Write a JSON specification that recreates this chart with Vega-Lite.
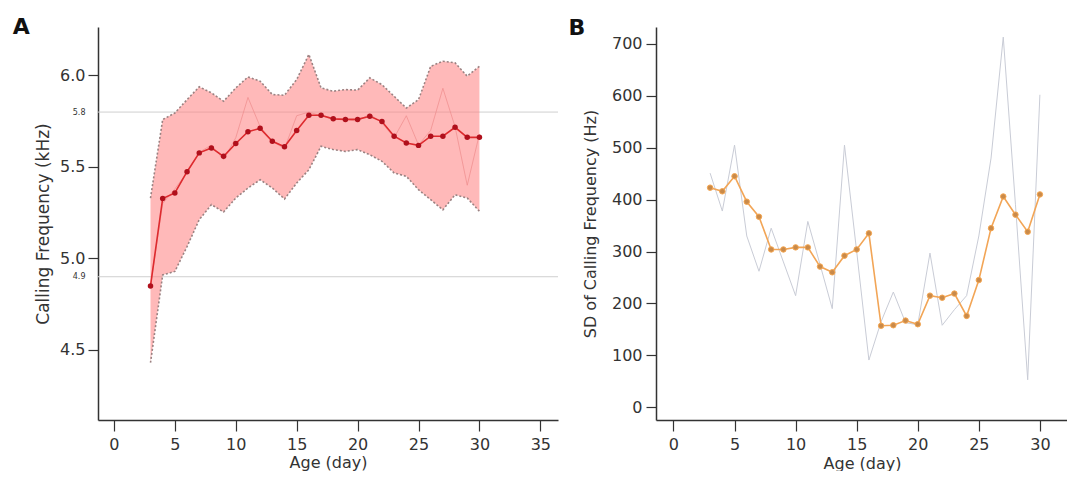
{
  "$schema": "https://vega.github.io/schema/vega-lite/v6.json",
  "padding": {"left": 12, "top": 16, "right": 0, "bottom": 0},
  "background": "white",
  "bounds": "flush",
  "spacing": 98,
  "config": {
    "view": {"stroke": null},
    "font": "DejaVu Sans",
    "axis": {
      "labelFont": "DejaVu Sans", "titleFont": "DejaVu Sans",
      "labelColor": "#333", "titleColor": "#333", "domainColor": "#333", "tickColor": "#333",
      "domainWidth": 1.5, "tickWidth": 1.2, "grid": false,
      "titleFontWeight": "normal", "labelFontSize": 16, "titleFontSize": 16
    }
  },
  "datasets": {
    "freq": [
      {"day": 3, "mean": 4.85, "upper": 5.33, "lower": 4.43, "raw": 4.85},
      {"day": 4, "mean": 5.328, "upper": 5.759, "lower": 4.91, "raw": 5.30},
      {"day": 5, "mean": 5.358, "upper": 5.795, "lower": 4.929, "raw": 5.38},
      {"day": 6, "mean": 5.474, "upper": 5.868, "lower": 5.065, "raw": 5.47},
      {"day": 7, "mean": 5.577, "upper": 5.938, "lower": 5.212, "raw": 5.58},
      {"day": 8, "mean": 5.604, "upper": 5.905, "lower": 5.294, "raw": 5.62},
      {"day": 9, "mean": 5.558, "upper": 5.859, "lower": 5.254, "raw": 5.54},
      {"day": 10, "mean": 5.628, "upper": 5.932, "lower": 5.33, "raw": 5.66},
      {"day": 11, "mean": 5.693, "upper": 5.992, "lower": 5.385, "raw": 5.88},
      {"day": 12, "mean": 5.711, "upper": 5.969, "lower": 5.43, "raw": 5.72},
      {"day": 13, "mean": 5.64, "upper": 5.896, "lower": 5.385, "raw": 5.64},
      {"day": 14, "mean": 5.611, "upper": 5.892, "lower": 5.325, "raw": 5.60},
      {"day": 15, "mean": 5.699, "upper": 5.978, "lower": 5.412, "raw": 5.78},
      {"day": 16, "mean": 5.783, "upper": 6.115, "lower": 5.485, "raw": 5.80},
      {"day": 17, "mean": 5.783, "upper": 5.932, "lower": 5.613, "raw": 5.78},
      {"day": 18, "mean": 5.763, "upper": 5.914, "lower": 5.595, "raw": 5.76},
      {"day": 19, "mean": 5.76, "upper": 5.923, "lower": 5.585, "raw": 5.76},
      {"day": 20, "mean": 5.76, "upper": 5.92, "lower": 5.595, "raw": 5.75},
      {"day": 21, "mean": 5.777, "upper": 5.987, "lower": 5.567, "raw": 5.79},
      {"day": 22, "mean": 5.748, "upper": 5.95, "lower": 5.531, "raw": 5.74},
      {"day": 23, "mean": 5.668, "upper": 5.886, "lower": 5.467, "raw": 5.66},
      {"day": 24, "mean": 5.631, "upper": 5.822, "lower": 5.449, "raw": 5.78},
      {"day": 25, "mean": 5.618, "upper": 5.868, "lower": 5.376, "raw": 5.62},
      {"day": 26, "mean": 5.668, "upper": 6.05, "lower": 5.321, "raw": 5.70},
      {"day": 27, "mean": 5.668, "upper": 6.078, "lower": 5.266, "raw": 5.93},
      {"day": 28, "mean": 5.717, "upper": 6.069, "lower": 5.348, "raw": 5.72},
      {"day": 29, "mean": 5.662, "upper": 5.996, "lower": 5.33, "raw": 5.40},
      {"day": 30, "mean": 5.662, "upper": 6.05, "lower": 5.258, "raw": 5.68}
    ],
    "refs": [{"ref": 5.8}, {"ref": 4.9}],
    "letterA": [{"label": "A", "lx": -8.3, "ly": 6.226}],
    "letterB": [{"label": "B", "lx": -8.6, "ly": 717}],
    "sd": [
      {"day": 3, "sd": 423, "raw": 451},
      {"day": 4, "sd": 416, "raw": 378},
      {"day": 5, "sd": 445, "raw": 505},
      {"day": 6, "sd": 396, "raw": 330},
      {"day": 7, "sd": 367, "raw": 262},
      {"day": 8, "sd": 304, "raw": 345},
      {"day": 9, "sd": 304, "raw": 280},
      {"day": 10, "sd": 308, "raw": 215},
      {"day": 11, "sd": 308, "raw": 358},
      {"day": 12, "sd": 271, "raw": 275},
      {"day": 13, "sd": 260, "raw": 190},
      {"day": 14, "sd": 292, "raw": 505},
      {"day": 15, "sd": 304, "raw": 300},
      {"day": 16, "sd": 335, "raw": 91},
      {"day": 17, "sd": 157, "raw": 165},
      {"day": 18, "sd": 158, "raw": 222},
      {"day": 19, "sd": 167, "raw": 163},
      {"day": 20, "sd": 160, "raw": 159},
      {"day": 21, "sd": 215, "raw": 297},
      {"day": 22, "sd": 211, "raw": 158},
      {"day": 23, "sd": 219, "raw": 188},
      {"day": 24, "sd": 176, "raw": 215},
      {"day": 25, "sd": 245, "raw": 330},
      {"day": 26, "sd": 345, "raw": 480},
      {"day": 27, "sd": 406, "raw": 713},
      {"day": 28, "sd": 371, "raw": 390},
      {"day": 29, "sd": 338, "raw": 53},
      {"day": 30, "sd": 410, "raw": 602}
    ]
  },
  "hconcat": [
    {
      "width": 460,
      "height": 393,
      "layer": [
        {
          "data": {"name": "refs"},
          "mark": {"type": "rule", "color": "#cfcfcf", "strokeWidth": 1},
          "encoding": {
            "y": {"field": "ref", "type": "quantitative", "scale": {"domain": [4.117, 6.265], "nice": false, "zero": false}}
          }
        },
        {
          "data": {"name": "freq"},
          "mark": {"type": "area", "color": "#ff8080", "opacity": 0.55},
          "encoding": {
            "x": {"field": "day", "type": "quantitative"},
            "y": {"field": "lower", "type": "quantitative"},
            "y2": {"field": "upper"}
          }
        },
        {
          "data": {"name": "freq"},
          "mark": {"type": "line", "color": "#9a8282", "strokeWidth": 1.6, "strokeDash": [2, 2]},
          "encoding": {
            "x": {"field": "day", "type": "quantitative"},
            "y": {"field": "upper", "type": "quantitative"}
          }
        },
        {
          "data": {"name": "freq"},
          "mark": {"type": "line", "color": "#9a8282", "strokeWidth": 1.6, "strokeDash": [2, 2]},
          "encoding": {
            "x": {"field": "day", "type": "quantitative"},
            "y": {"field": "lower", "type": "quantitative"}
          }
        },
        {
          "data": {"name": "freq"},
          "mark": {"type": "line", "color": "#ee8c8c", "strokeWidth": 1, "opacity": 0.7},
          "encoding": {
            "x": {"field": "day", "type": "quantitative"},
            "y": {"field": "raw", "type": "quantitative"}
          }
        },
        {
          "data": {"name": "freq"},
          "mark": {"type": "line", "color": "#dd2a2e", "strokeWidth": 1.6},
          "encoding": {
            "x": {"field": "day", "type": "quantitative"},
            "y": {"field": "mean", "type": "quantitative"}
          }
        },
        {
          "data": {"name": "letterA"},
          "mark": {"type": "text", "fontSize": 22, "fontWeight": "bold", "align": "left", "baseline": "alphabetic", "color": "#111", "font": "DejaVu Sans"},
          "encoding": {
            "x": {"field": "lx", "type": "quantitative"},
            "y": {"field": "ly", "type": "quantitative"},
            "text": {"field": "label"}
          }
        },
        {
          "data": {"name": "freq"},
          "mark": {"type": "point", "filled": true, "color": "#b0101c", "size": 30, "opacity": 1},
          "encoding": {
            "x": {
              "field": "day", "type": "quantitative",
              "scale": {"domain": [-1.31, 36.45], "nice": false, "zero": false},
              "axis": {"values": [0, 5, 10, 15, 20, 25, 30, 35], "tickSize": 11, "labelPadding": 5, "title": "Age (day)", "titlePadding": 2}
            },
            "y": {
              "field": "mean", "type": "quantitative",
              "axis": {
                "values": [4.5, 4.9, 5.0, 5.5, 5.8, 6.0],
                "format": ".1f",
                "labelOverlap": false,
                "labelFontSize": {"condition": {"test": "datum.value == 4.9 || datum.value == 5.8", "value": 8}, "value": 16},
                "tickOpacity": {"condition": {"test": "datum.value == 4.9 || datum.value == 5.8", "value": 0}, "value": 1},
                "tickSize": 10,
                "labelPadding": 3,
                "title": "Calling Frequency (kHz)",
                "titleFontSize": 17,
                "titlePadding": 7
              }
            }
          }
        }
      ]
    },
    {
      "width": 412,
      "height": 393,
      "layer": [
        {
          "data": {"name": "sd"},
          "mark": {"type": "line", "color": "#c9ccd6", "strokeWidth": 1},
          "encoding": {
            "x": {"field": "day", "type": "quantitative"},
            "y": {"field": "raw", "type": "quantitative"}
          }
        },
        {
          "data": {"name": "sd"},
          "mark": {"type": "line", "color": "#f2a556", "strokeWidth": 1.6},
          "encoding": {
            "x": {"field": "day", "type": "quantitative"},
            "y": {"field": "sd", "type": "quantitative"}
          }
        },
        {
          "data": {"name": "letterB"},
          "mark": {"type": "text", "fontSize": 22, "fontWeight": "bold", "align": "left", "baseline": "alphabetic", "color": "#111", "font": "DejaVu Sans"},
          "encoding": {
            "x": {"field": "lx", "type": "quantitative"},
            "y": {"field": "ly", "type": "quantitative"},
            "text": {"field": "label"}
          }
        },
        {
          "data": {"name": "sd"},
          "mark": {"type": "point", "filled": true, "color": "#c98a4a", "size": 30, "stroke": "#f5a650", "strokeWidth": 1, "opacity": 1},
          "encoding": {
            "x": {
              "field": "day", "type": "quantitative",
              "scale": {"domain": [-1.43, 32.3], "nice": false, "zero": false},
              "axis": {"values": [0, 5, 10, 15, 20, 25, 30], "tickSize": 11, "labelPadding": 5, "title": "Age (day)", "titlePadding": 3}
            },
            "y": {
              "field": "sd", "type": "quantitative",
              "scale": {"domain": [-24.5, 732.5], "nice": false, "zero": false},
              "axis": {"values": [0, 100, 200, 300, 400, 500, 600, 700], "tickSize": 10, "labelPadding": 4, "title": "SD of Calling Frequency (Hz)", "titlePadding": 13}
            }
          }
        }
      ]
    }
  ]
}
